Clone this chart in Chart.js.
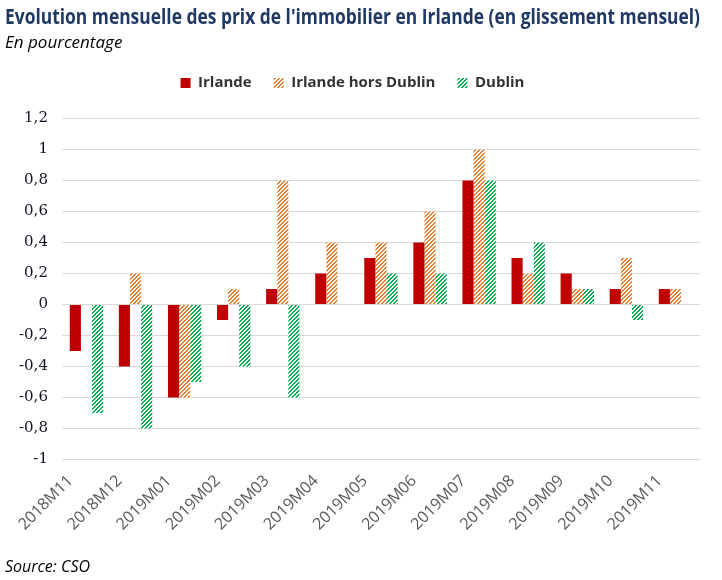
<!DOCTYPE html>
<html>
<head>
<meta charset="utf-8">
<script src="https://cdn.jsdelivr.net/npm/chart.js@4/dist/chart.umd.min.js"></script>
<style>
  html, body { margin: 0; padding: 0; background: #fff; }
  #wrap { width: 722px; height: 580px; position: relative; }
</style>
</head>
<body>
<div id="wrap"><canvas id="c" width="722" height="580"></canvas></div>
<script>
const categories = ["2018M11","2018M12","2019M01","2019M02","2019M03","2019M04","2019M05","2019M06","2019M07","2019M08","2019M09","2019M10","2019M11"];
const irlande = [-0.3,-0.4,-0.6,-0.1,0.1,0.2,0.3,0.4,0.8,0.3,0.2,0.1,0.1];
const irlandeHorsDublin = [0,0.2,-0.6,0.1,0.8,0.4,0.4,0.6,1.0,0.2,0.1,0.3,0.1];
const dublin = [-0.7,-0.8,-0.5,-0.4,-0.6,0,0.2,0.2,0.8,0.4,0.1,-0.1,0];
const seriesNames = ["Irlande","Irlande hors Dublin","Dublin"];
const titleText = "Evolution mensuelle des prix de l'immobilier en Irlande (en glissement mensuel)";
const subtitleText = "En pourcentage";
const sourceText = "Source: CSO";

const NARROW = "'Liberation Sans Narrow', 'Open Sans', sans-serif";

function hatch(color) {
  const size = 8;
  const cv = document.createElement('canvas');
  cv.width = size; cv.height = size;
  const g = cv.getContext('2d');
  g.fillStyle = '#ffffff';
  g.fillRect(0, 0, size, size);
  g.fillStyle = color;
  for (let x = 0; x < size; x++) {
    for (let y = 0; y < size; y++) {
      if ((x + y) % 4 < 2) g.fillRect(x, y, 1, 1);
    }
  }
  return g.createPattern(cv, 'repeat');
}

const ctx = document.getElementById('c').getContext('2d');

const sourcePlugin = {
  id: 'sourceText',
  afterDraw(chart) {
    const c = chart.ctx;
    c.save();
    c.font = "italic 16px " + NARROW;
    c.fillStyle = '#000000';
    c.textBaseline = 'middle';
    c.textAlign = 'left';
    c.fillText(sourceText, 5, 567);
    c.restore();
  }
};

const legendGap = {
  id: 'legendGap',
  beforeInit(chart) {
    const orig = chart.legend.fit;
    chart.legend.fit = function () {
      orig.bind(chart.legend)();
      this.height += 18;
    };
  }
};

new Chart(ctx, {
  type: 'bar',
  data: {
    labels: categories,
    datasets: [
      { label: seriesNames[0], data: irlande, backgroundColor: '#C00000', borderWidth: 0 },
      { label: seriesNames[1], data: irlandeHorsDublin, backgroundColor: hatch('#ED7D31'), borderWidth: 0 },
      { label: seriesNames[2], data: dublin, backgroundColor: hatch('#00B050'), borderWidth: 0 }
    ]
  },
  options: {
    responsive: false,
    animation: false,
    devicePixelRatio: 1,
    layout: { padding: { left: 5, right: 22, top: 2, bottom: 42 } },
    datasets: { bar: { categoryPercentage: 0.68, barPercentage: 1.0 } },
    plugins: {
      title: {
        display: true, text: titleText, align: 'start',
        color: '#1F3864',
        font: { family: NARROW, size: 21, weight: 'bold' },
        padding: { top: 3, bottom: 3 }
      },
      subtitle: {
        display: true, text: subtitleText, align: 'start',
        color: '#000000',
        font: { family: NARROW, size: 17, style: 'italic' },
        padding: { top: 0, bottom: 0 }
      },
      legend: {
        display: true, position: 'top', align: 'center',
        labels: {
          boxWidth: 10, boxHeight: 10, padding: 22,
          color: '#333333',
          font: { family: NARROW, size: 15, weight: 'bold' }
        }
      },
      tooltip: { enabled: false }
    },
    scales: {
      x: {
        grid: { display: false },
        border: { display: false },
        ticks: {
          color: '#595959',
          font: { family: NARROW, size: 16 },
          minRotation: 45, maxRotation: 45,
          labelOffset: -16,
          padding: 4,
          autoSkip: false
        }
      },
      y: {
        min: -1, max: 1.2,
        grid: { color: '#D9D9D9', lineWidth: 1, drawTicks: false },
        border: { display: false },
        ticks: {
          stepSize: 0.2,
          padding: 14,
          color: '#111122',
          font: { family: "'DejaVu Serif', serif", size: 15 },
          callback: (v) => Number(v.toFixed(1)).toString().replace('.', ',')
        }
      }
    }
  },
  plugins: [sourcePlugin, legendGap]
});
</script>
</body>
</html>
